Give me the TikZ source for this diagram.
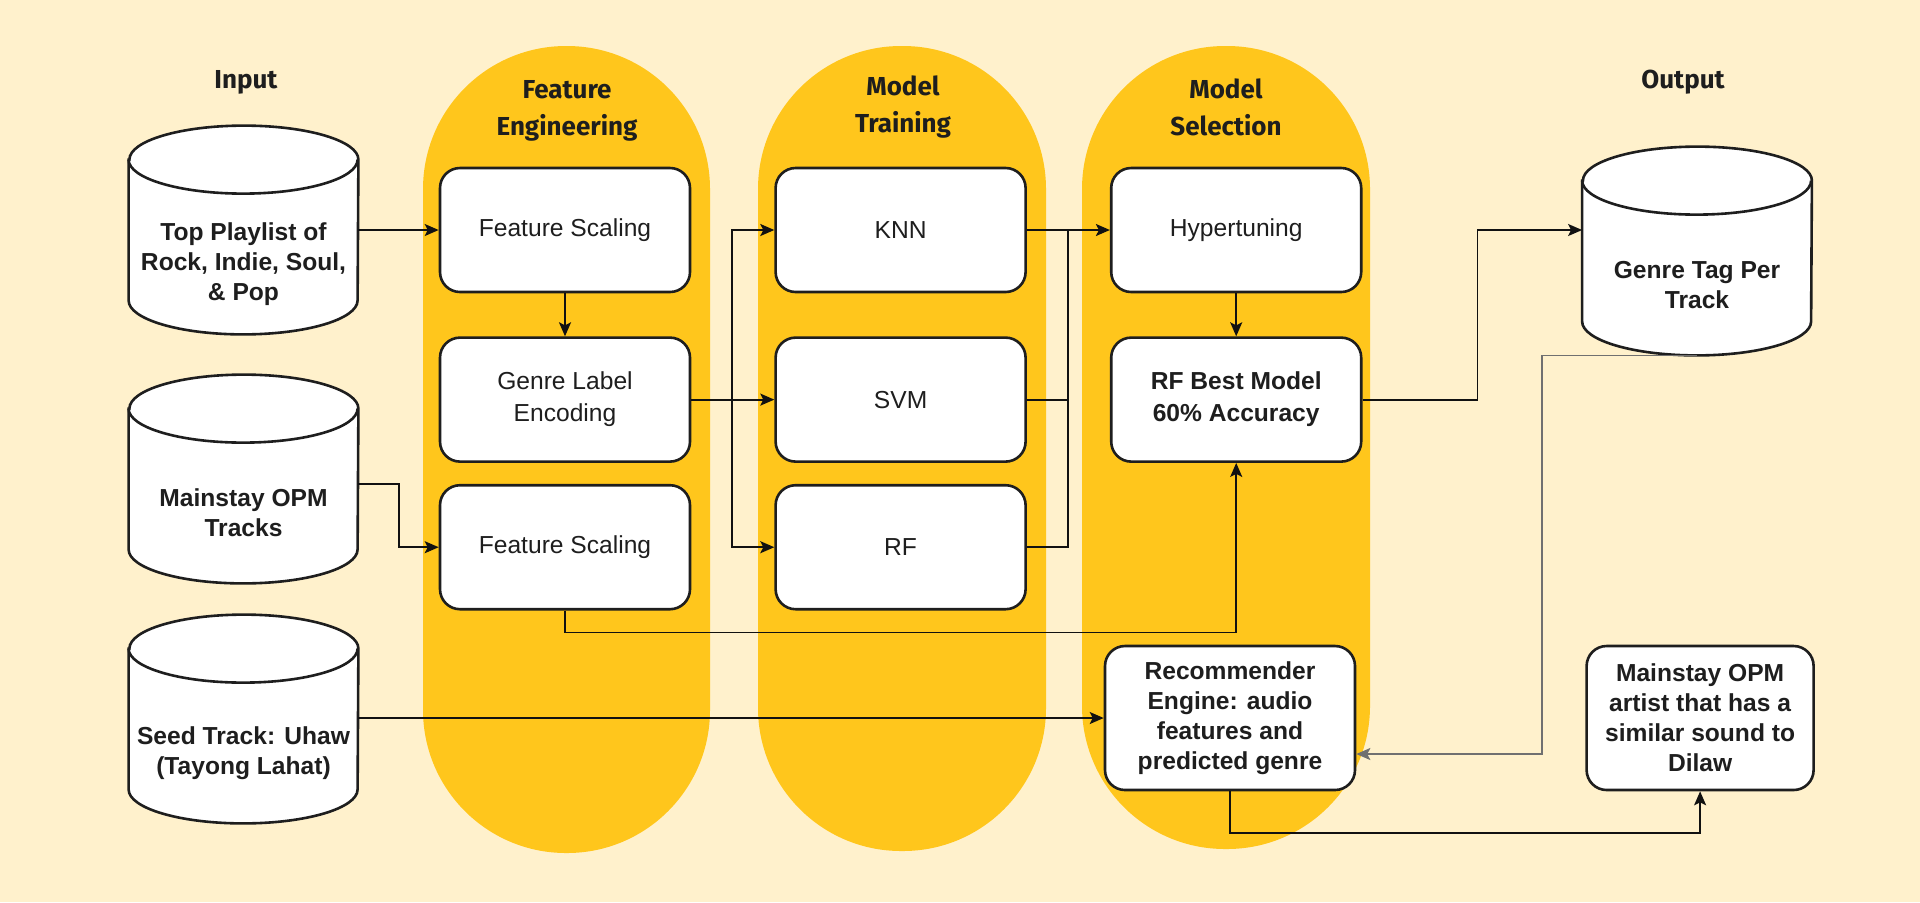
\documentclass[tikz,border=0pt]{standalone}
\usepackage{fontspec}
\setmainfont{Liberation Sans}
\newfontfamily\headfont{Fira Sans}
\usetikzlibrary{arrows.meta,positioning,calc,backgrounds}
\definecolor{Paper}{HTML}{FFF1CC}
\definecolor{Lane}{HTML}{FFC61C}
\definecolor{Ink}{HTML}{1E1E1E}
\definecolor{Wire}{HTML}{111111}
\tikzset{
  stagebox/.style={draw=Ink,fill=white,line width=1.3pt,rounded corners=10pt,minimum width=125pt,minimum height=62pt,align=center,font=\fontsize{12.3}{16}\selectfont,text=Ink},
  storebox/.style={minimum width=114.5pt,minimum height=70pt,inner sep=0pt,align=center,font=\fontsize{12.3}{15}\selectfont\bfseries,text=Ink},
  storeline/.style={draw=Ink,fill=white,line width=1.3pt},
  lane/.style={fill=Lane,rounded corners=71.5pt},
  head/.style={align=center,font=\headfont\fontsize{13}{18.5}\selectfont\bfseries,text=Ink},
  line/.style={-{Stealth[length=7pt,width=6pt,inset=1.5pt]},draw=Wire,line width=0.9pt},
  plainline/.style={draw=Wire,line width=0.9pt}
}
\begin{document}
\begin{tikzpicture}[x=0.5pt,y=0.5pt]
  \begin{scope}[on background layer]
    \fill[Paper] (0,0) rectangle (1920,-902);
    \fill[lane] (423,-46) rectangle (710,-853);
    \fill[lane] (758,-46) rectangle (1046,-851);
    \fill[lane] (1082,-46) rectangle (1370,-849);
  \end{scope}

  % headings
  \node[head] (inhead) at (246,-82) {Input};
  \node[head] (fehead) at (567,-111) {Feature\\Engineering};
  \node[head] (mthead) at (903,-107) {Model\\Training};
  \node[head] (mshead) at (1226,-107) {Model\\Selection};
  \node[head] (outhead) at (1683,-82) {Output};

  % data stores
  \node[storebox] (top) at (243.5,-264) {Top Playlist of\\Rock, Indie, Soul,\\\& Pop};
  \node[storebox] (opm) at (243.5,-513) {Mainstay OPM\\Tracks};
  \node[storebox] (seed) at (243.5,-753) {Seed Track: Uhaw\\(Tayong Lahat)};
  \node[storebox] (tags) at (1697,-285) {Genre Tag Per\\Track};

  % pipeline steps
  \node[stagebox] (fs1) at (565,-230) {Feature Scaling};
  \node[stagebox,below=21.5pt of fs1] (gle) {Genre Label\\Encoding};
  \node[stagebox,below=10.5pt of gle] (fs2) {Feature Scaling};
  \node[stagebox,right=41.5pt of fs1] (knn) {KNN};
  \node[stagebox,below=21.5pt of knn] (svm) {SVM};
  \node[stagebox,below=10.5pt of svm] (rf) {RF};
  \node[stagebox,right=41.5pt of knn] (hyp) {Hypertuning};
  \node[stagebox,below=21.5pt of hyp,font=\fontsize{12.3}{16}\selectfont\bfseries] (best) {RF Best Model\\60\% Accuracy};
  \node[stagebox,minimum height=72pt,font=\fontsize{12.3}{15}\selectfont\bfseries] (rec) at (1230,-718) {Recommender\\Engine: audio\\features and\\predicted genre};
  \node[stagebox,minimum width=113.5pt,minimum height=72pt,right=114.5pt of rec,font=\fontsize{12.3}{15}\selectfont\bfseries] (out) {Mainstay OPM\\artist that has a\\similar sound to\\Dilaw};

  % cylinder outlines behind the store texts
  \begin{scope}[on background layer]
    \foreach \cyl in {top,opm,seed,tags}{
      \path[storeline] ($(\cyl.north west)+(0,17pt)$) -- ($(\cyl.south west)+(0,17pt)$)
        arc[start angle=180,end angle=360,x radius=57.25pt,y radius=17pt]
        -- ($(\cyl.north east)+(0,17pt)$)
        arc[start angle=0,end angle=180,x radius=57.25pt,y radius=17pt] -- cycle;
      \draw[storeline,fill=none] ($(\cyl.north west)+(0,17pt)$)
        arc[start angle=180,end angle=360,x radius=57.25pt,y radius=17pt];
    }
  \end{scope}

  % connectors
  \draw[line] (top.east |- fs1) -- (fs1.west);
  \draw[line] (fs1) -- (gle);
  \draw[line] (opm.east |- fs2.north) -- ++(40.5,0) |- (fs2.west);
  \draw[line] (gle) -- (svm);
  \draw[line] (gle.east) -- ++(41,0) coordinate (fork) |- (knn.west);
  \draw[line] (fork) |- (rf.west);
  \draw[line] (knn.east) -- ++(41,0) coordinate (join) -- (hyp.west);
  \draw[plainline] (svm.east) -| (join);
  \draw[plainline] (rf.east) -| (join);
  \draw[line] (hyp) -- (best);
  \draw[line] (best.east) -- ++(115,0) |- (tags.west |- hyp);
  \draw[line] (fs2.south) -- ++(0,-22) -| (best.south);
  \draw[line] (seed.east |- rec) -- (rec.west);
  \draw[line,draw=Wire!60] (tags.south) -- ++(-155,0) |- ($(rec.east)+(0,-36)$);
  \draw[line] (rec.south) -- ++(0,-42) -| (out.south);
\end{tikzpicture}
\end{document}
